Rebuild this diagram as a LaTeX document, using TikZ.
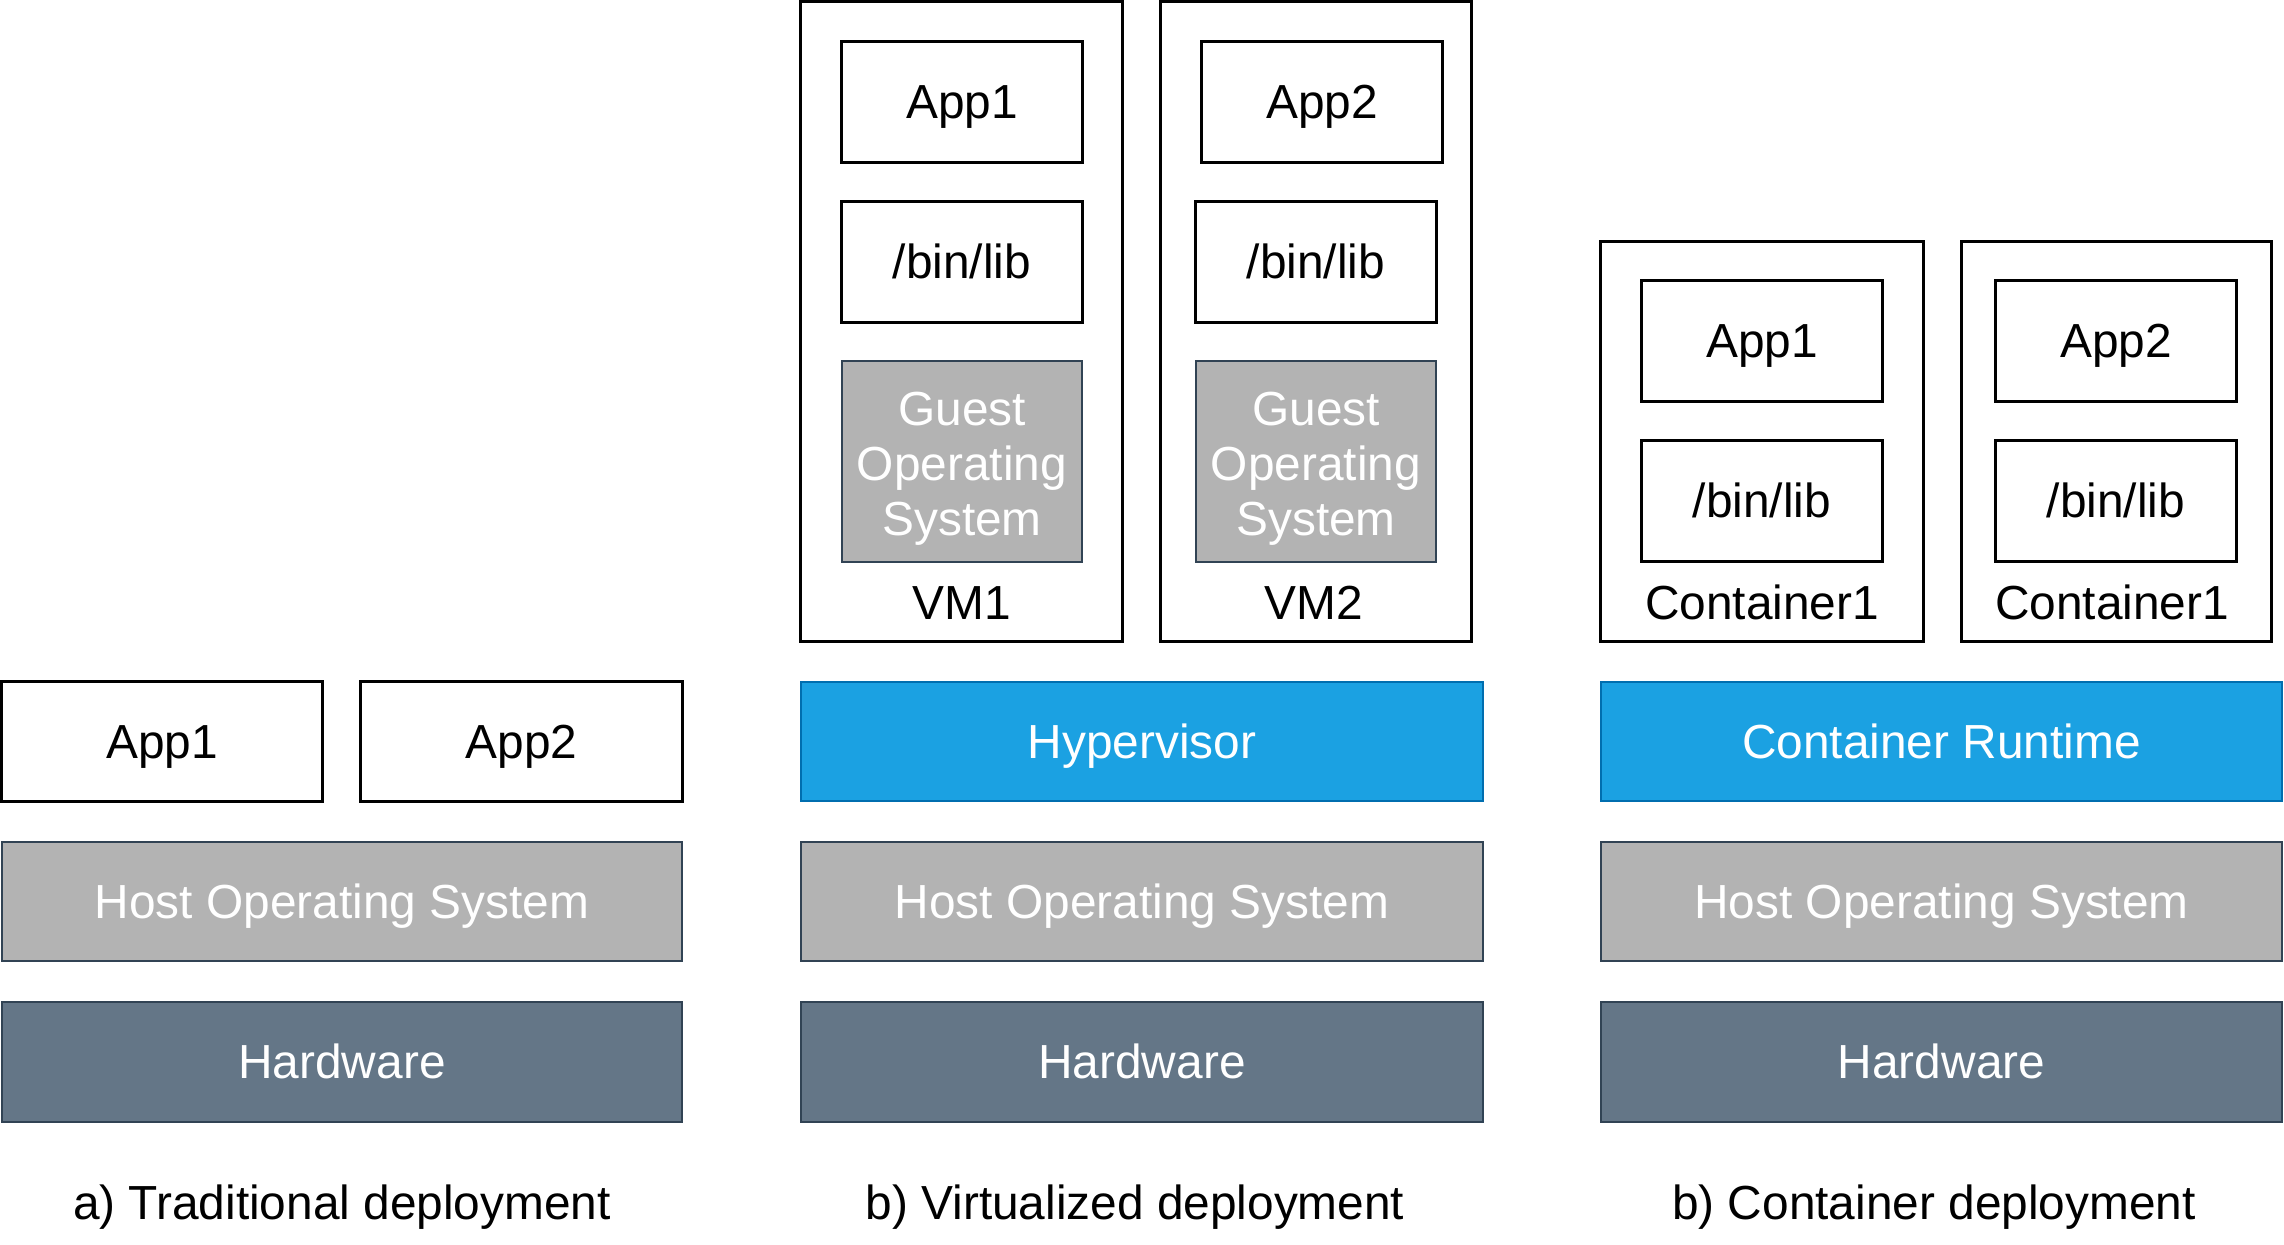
\documentclass[tikz,border=0pt]{standalone}
\usepackage{fontspec}
\setmainfont{Liberation Sans}
\usetikzlibrary{positioning}
\definecolor{hostG}{RGB}{179,179,179}
\definecolor{hwS}{RGB}{100,118,135}
\definecolor{edgeS}{RGB}{49,67,84}
\definecolor{rtB}{RGB}{27,161,226}
\definecolor{rtE}{RGB}{0,110,175}

\begin{document}
\begin{tikzpicture}[x=0.01cm, y=-0.01cm, font=\fontsize{13.6}{15.7}\selectfont,
  layer/.style={inner sep=0pt, outer sep=0pt, align=center, text height=12.3pt, text depth=2.9pt},
  appbox/.style={layer, draw=black, line width=0.85pt, fill=white, minimum width=2.4cm, minimum height=1.2cm},
  shell/.style={inner sep=0pt, draw=black, line width=0.85pt},
  osbox/.style={layer, fill=hostG, draw=edgeS, line width=0.6pt, text=white},
  guestbox/.style={inner sep=0pt, fill=hostG, draw=edgeS, line width=0.6pt, minimum width=2.4cm, minimum height=2.01cm},
  guesttext/.style={inner sep=0pt, align=center, text=white, yshift=-0.07cm},
  hwbox/.style={layer, fill=hwS, draw=edgeS, line width=0.6pt, text=white},
  rtbox/.style={layer, fill=rtB, draw=rtE, line width=0.6pt, text=white}]
  \useasboundingbox (0,0) rectangle (2284,1244);

  % a) traditional
  \node[appbox, minimum width=3.2cm, minimum height=1.19cm] (tApp1) at (162,741.5) {App1};
  \node[appbox, minimum width=3.21cm, minimum height=1.19cm] (tApp2) at (521.5,741.5) {App2};
  \node[osbox, minimum width=6.8cm, minimum height=1.19cm] (tOS) at (342,901.5) {Host Operating System};
  \node[hwbox, minimum width=6.8cm, minimum height=1.2cm] (tHW) at (342,1062) {Hardware};
  \node[layer] (tCap) at (342,1203) {a) Traditional deployment};

  % b) virtualized
  \node[shell, minimum width=3.21cm, minimum height=6.39cm] (vmOne) at (961.5,321.5) {};
  \node[appbox] (vmOneApp) at (962,102) {App1};
  \node[appbox] (vmOneLib) at (962,262) {/bin/lib};
  \node[guestbox, label={[guesttext]center:{Guest\\Operating\\System}}] (vmOneOS) at (962,461.5) {};
  \node[layer] (vmOneLbl) at (962,603) {VM1};

  \node[shell, minimum width=3.1cm, minimum height=6.39cm] (vmTwo) at (1316,321.5) {};
  \node[appbox] (vmTwoApp) at (1322,102) {App2};
  \node[appbox] (vmTwoLib) at (1316,262) {/bin/lib};
  \node[guestbox, label={[guesttext]center:{Guest\\Operating\\System}}] (vmTwoOS) at (1316,461.5) {};
  \node[layer] (vmTwoLbl) at (1314,603) {VM2};

  \node[rtbox, minimum width=6.82cm, minimum height=1.19cm] (vHyp) at (1142,741.5) {Hypervisor};
  \node[osbox, minimum width=6.82cm, minimum height=1.19cm] (vOS) at (1142,901.5) {Host Operating System};
  \node[hwbox, minimum width=6.82cm, minimum height=1.2cm] (vHW) at (1142,1062) {Hardware};
  \node[layer] (vCap) at (1135,1203) {b) Virtualized deployment};

  % b) container
  \node[shell, minimum width=3.22cm, minimum height=3.99cm] (ctOne) at (1762,441.5) {};
  \node[appbox] (ctOneApp) at (1762,341) {App1};
  \node[appbox] (ctOneLib) at (1762,501) {/bin/lib};
  \node[layer] (ctOneLbl) at (1762,603) {Container1};

  \node[shell, minimum width=3.09cm, minimum height=3.99cm] (ctTwo) at (2116.5,441.5) {};
  \node[appbox] (ctTwoApp) at (2116,341) {App2};
  \node[appbox] (ctTwoLib) at (2116,501) {/bin/lib};
  \node[layer] (ctTwoLbl) at (2112,603) {Container1};

  \node[rtbox, minimum width=6.81cm, minimum height=1.19cm] (cRt) at (1941.5,741.5) {Container Runtime};
  \node[osbox, minimum width=6.81cm, minimum height=1.19cm] (cOS) at (1941.5,901.5) {Host Operating System};
  \node[hwbox, minimum width=6.81cm, minimum height=1.2cm] (cHW) at (1941.5,1062) {Hardware};
  \node[layer] (cCap) at (1934,1203) {b) Container deployment};
\end{tikzpicture}
\end{document}
